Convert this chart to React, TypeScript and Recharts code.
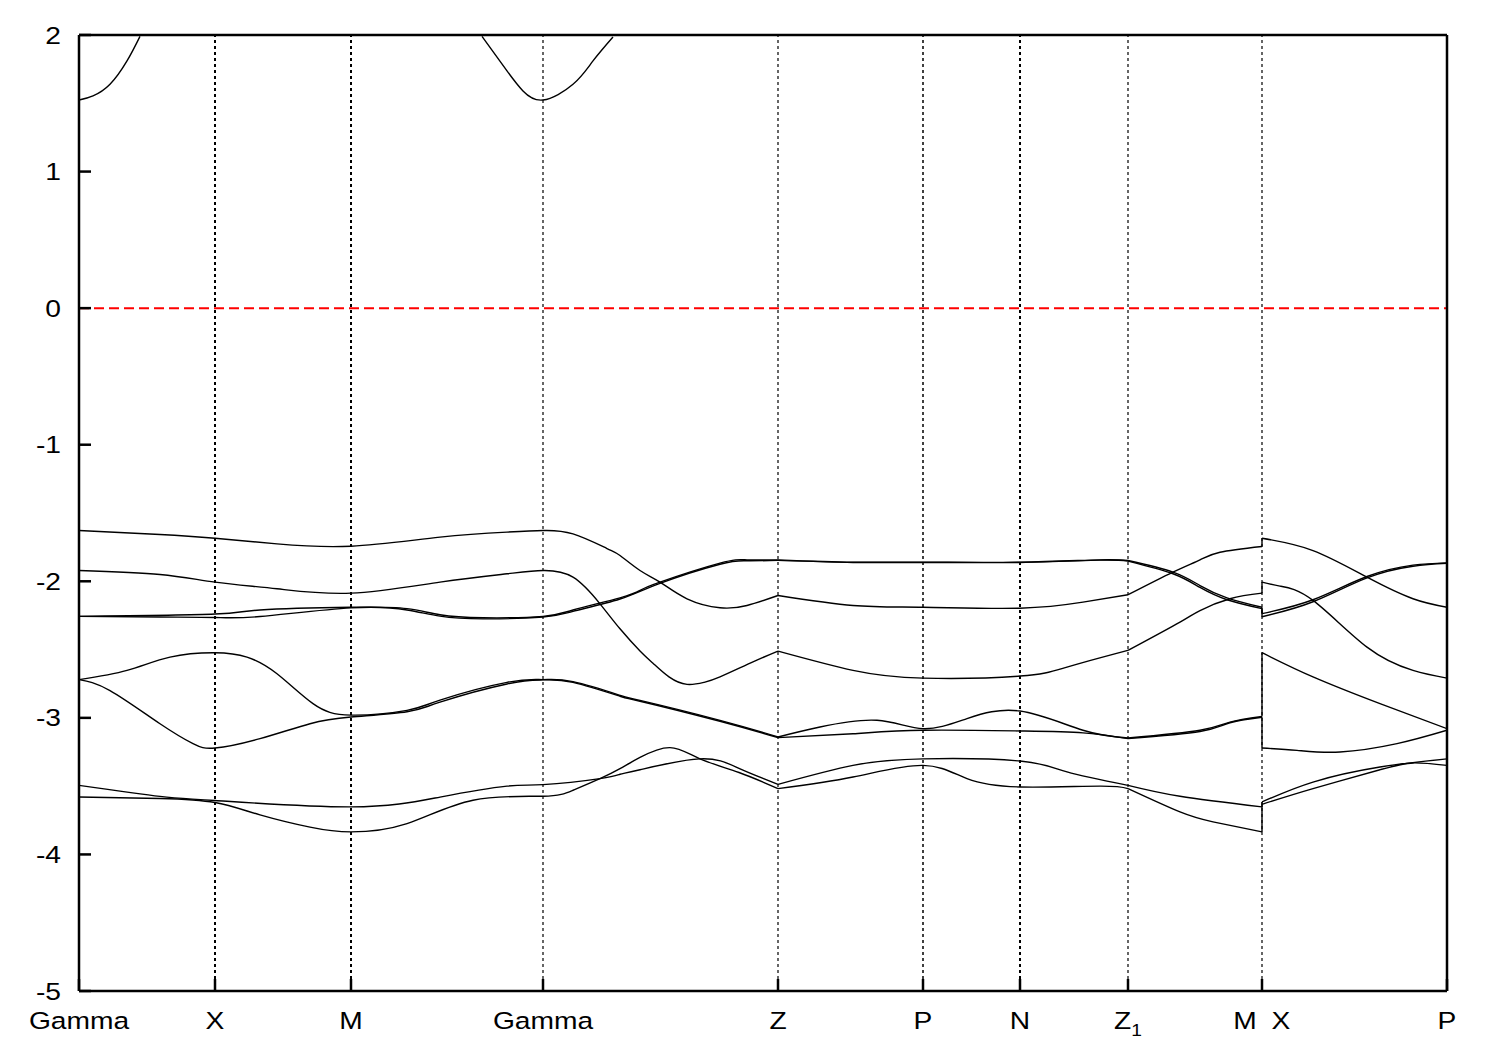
import { LineChart, Line, XAxis, YAxis, ReferenceLine } from "recharts";

// band structure: k = path length (plot px from left edge), E in eV
const kPoints = [0, 136, 272, 464, 699, 844, 941, 1049, 1183, 1368];
const kLabels = ["Gamma", "X", "M", "Gamma", "Z", "P", "N", "Z1", "M X", "P"];
const energyTicks = [-5, -4, -3, -2, -1, 0, 1, 2];
const FERMI = 0;
// Z and Z1 are not mirror points: bands come in with a kink there
const kinkPoints = [699, 1049];

// conduction band minimum at Gamma
const cbGamma1: [number, number][] = [[0, 1.524], [14, 1.554], [31, 1.639], [48, 1.81], [61, 1.99]];
const cbGamma2: [number, number][] = [[403, 1.99], [428, 1.737], [444, 1.59], [464, 1.524], [494, 1.639], [514, 1.81], [534, 1.985]];

// valence bands, Gamma -> M (left) and X -> P (right)
const bandALeft: [number, number][] = [
  [0, -1.628], [81, -1.657], [136, -1.685], [198, -1.726], [272, -1.743], [361, -1.677], [428, -1.64],
  [464, -1.628], [494, -1.653], [528, -1.76], [541, -1.811], [561, -1.921], [581, -2.006], [608, -2.128],
  [641, -2.194], [668, -2.177], [699, -2.104], [774, -2.177], [844, -2.19], [941, -2.197], [1004, -2.153],
  [1049, -2.099], [1094, -1.933], [1121, -1.843], [1141, -1.787], [1183, -1.745],
];
const bandARight: [number, number][] = [[1183, -1.685], [1234, -1.775], [1288, -1.97], [1334, -2.128], [1368, -2.19]];

const bandBLeft: [number, number][] = [
  [0, -1.921], [81, -1.95], [136, -2.006], [198, -2.055], [272, -2.087], [361, -2.006], [428, -1.945],
  [464, -1.921], [494, -1.97], [521, -2.165], [541, -2.348], [561, -2.51], [574, -2.6], [590, -2.7],
  [608, -2.755], [625, -2.74], [641, -2.70], [674, -2.59], [699, -2.511], [774, -2.652], [844, -2.709],
  [941, -2.694], [988, -2.628], [1049, -2.506], [1101, -2.299], [1121, -2.214], [1151, -2.128], [1183, -2.087],
];
const bandBRight: [number, number][] = [[1183, -2.006], [1201, -2.035], [1234, -2.14], [1288, -2.482], [1334, -2.652], [1368, -2.709]];

const bandCLeft: [number, number][] = [
  [0, -2.257], [136, -2.24], [181, -2.21], [272, -2.19], [328, -2.2], [361, -2.245], [404, -2.267],
  [464, -2.257], [494, -2.21], [541, -2.121], [561, -2.067], [581, -2.006], [641, -1.867], [668, -1.843],
  [699, -1.843], [774, -1.86], [844, -1.86], [941, -1.86], [1021, -1.843], [1049, -1.848], [1094, -1.933],
  [1121, -2.031], [1148, -2.121], [1183, -2.19],
];
const bandCRight: [number, number][] = [[1183, -2.237], [1234, -2.135], [1288, -1.965], [1334, -1.882], [1368, -1.865]];

const bandDLeft: [number, number][] = [
  [0, -2.257], [81, -2.262], [136, -2.265], [181, -2.258], [272, -2.195], [328, -2.21], [361, -2.255],
  [404, -2.275], [464, -2.262], [494, -2.22], [541, -2.13], [581, -2.015], [641, -1.875], [668, -1.85],
  [699, -1.847], [774, -1.862], [844, -1.862], [941, -1.862], [1021, -1.845], [1049, -1.852], [1094, -1.945],
  [1121, -2.045], [1148, -2.135], [1183, -2.2],
];
const bandDRight: [number, number][] = [[1183, -2.26], [1234, -2.15], [1288, -1.975], [1334, -1.89], [1368, -1.868]];

const bandELeft: [number, number][] = [
  [0, -2.72], [48, -2.652], [91, -2.555], [136, -2.523], [168, -2.555], [198, -2.677], [234, -2.896],
  [272, -2.98], [328, -2.945], [361, -2.87], [428, -2.74], [464, -2.72], [494, -2.735], [541, -2.835],
  [561, -2.872], [641, -3.018], [699, -3.14], [741, -3.067], [798, -3.018], [844, -3.079], [888, -3.005],
  [941, -2.95], [1004, -3.091], [1049, -3.148], [1121, -3.091], [1151, -3.031], [1183, -2.99],
];
const bandERight: [number, number][] = [[1183, -2.523], [1234, -2.7], [1301, -2.896], [1368, -3.079]];

const bandFLeft: [number, number][] = [
  [0, -2.72], [31, -2.8], [81, -3.043], [114, -3.189], [136, -3.221], [181, -3.152], [231, -3.043],
  [272, -2.994], [328, -2.955], [361, -2.885], [428, -2.752], [464, -2.722], [494, -2.74], [541, -2.842],
  [561, -2.878], [641, -3.025], [699, -3.145], [774, -3.116], [844, -3.091], [941, -3.096], [1004, -3.11],
  [1049, -3.152], [1121, -3.1], [1151, -3.036], [1183, -2.996],
];
const bandFRight: [number, number][] = [[1183, -3.221], [1218, -3.238], [1261, -3.25], [1318, -3.189], [1368, -3.091]];

const bandGLeft: [number, number][] = [
  [0, -3.494], [81, -3.575], [136, -3.605], [272, -3.652], [361, -3.58], [428, -3.5], [464, -3.489],
  [521, -3.445], [541, -3.413], [561, -3.38], [621, -3.3], [660, -3.37], [699, -3.487], [774, -3.348],
  [844, -3.3], [941, -3.316], [988, -3.396], [1049, -3.494], [1101, -3.574], [1183, -3.652],
];
const bandGRight: [number, number][] = [[1183, -3.616], [1234, -3.47], [1301, -3.36], [1368, -3.3]];

const bandHLeft: [number, number][] = [
  [0, -3.579], [81, -3.59], [136, -3.62], [181, -3.71], [231, -3.8], [272, -3.835], [328, -3.774],
  [394, -3.603], [464, -3.574], [494, -3.53], [521, -3.445], [541, -3.372], [561, -3.29], [591, -3.218],
  [621, -3.3], [660, -3.4], [699, -3.518], [774, -3.433], [844, -3.348], [888, -3.445], [941, -3.506],
  [1021, -3.5], [1049, -3.518], [1101, -3.689], [1134, -3.762], [1183, -3.835],
];
const bandHRight: [number, number][] = [[1183, -3.633], [1234, -3.518], [1301, -3.38], [1334, -3.33], [1368, -3.348]];

const bandPairs: [number, number][][][] = [
  [bandALeft, bandARight], [bandBLeft, bandBRight], [bandCLeft, bandCRight], [bandDLeft, bandDRight],
  [bandELeft, bandERight], [bandFLeft, bandFRight], [bandGLeft, bandGRight], [bandHLeft, bandHRight],
];

const toRows = (pts: [number, number][]) => pts.map(([k, E]) => ({ k, E }));

// cut a band at the kink points so the spline doesn't round them off
function splitAtKinks(pts: [number, number][]) {
  const out: [number, number][][] = [];
  let cur: [number, number][] = [];
  pts.forEach((p, i) => {
    cur.push(p);
    if (i > 0 && i < pts.length - 1 && kinkPoints.includes(p[0])) {
      out.push(cur);
      cur = [p];
    }
  });
  out.push(cur);
  return out;
}

const smoothSegments = [cbGamma1, cbGamma2, ...bandPairs.flat()].flatMap(splitAtKinks).map(toRows);
// gnuplot joins M and X with a vertical step because the path is discontinuous there
const jumpSegments = bandPairs.map(([l, r]) => toRows([l[l.length - 1], r[0]]));

const FONT = "'Liberation Sans', Arial, Helvetica, sans-serif";
const AXIS = { stroke: "#000", strokeWidth: 2.5 };
// the gnuplot png font is a bit wider than Arial
const STRETCH = 1.2;
const gridWidths = [2, 2, 1.2, 1.2, 1.5, 2, 1.2, 1.2];

function Label({ x, y, children, anchor = "middle", size = 23.5 }: any) {
  return (
    <text
      transform={`translate(${x},${y}) scale(${STRETCH},1)`}
      textAnchor={anchor}
      style={{ fontFamily: FONT, fontSize: size, fill: "#000" }}
    >
      {children}
    </text>
  );
}

function KTick(props: any) {
  const { x, y, index } = props;
  const label = kLabels[index] ?? "";
  const base = y + 17;
  if (label === "Z1") {
    return (
      <Label x={x} y={base}>
        <tspan>Z</tspan>
        <tspan dy={7} fontSize={16}>1</tspan>
      </Label>
    );
  }
  if (label.includes(" ")) {
    const [a, b] = label.split(" ");
    return (
      <g>
        <Label x={x - 17} y={base}>{a}</Label>
        <Label x={x + 19} y={base}>{b}</Label>
      </g>
    );
  }
  return <Label x={x} y={base}>{label}</Label>;
}

function ETick(props: any) {
  const { x, y, payload } = props;
  return <Label x={x} y={y + 8.5} anchor="end">{payload.value}</Label>;
}

export default function App() {
  return (
    <div style={{ position: "absolute", left: 0, top: 0, width: 1500, height: 1050, background: "#fff" }}>
      <LineChart width={1500} height={1050} margin={{ top: 30, right: 48, bottom: 19, left: 39 }}>
        <XAxis
          dataKey="k"
          type="number"
          domain={[0, 1368]}
          ticks={kPoints}
          interval={0}
          allowDataOverflow
          height={40}
          tickSize={-12}
          tickMargin={33}
          axisLine={AXIS}
          tickLine={AXIS}
          tick={<KTick />}
        />
        <XAxis
          xAxisId="top"
          orientation="top"
          type="number"
          domain={[0, 1368]}
          ticks={kPoints}
          interval={0}
          height={5}
          tickSize={-12}
          axisLine={AXIS}
          tickLine={AXIS}
          tick={false}
        />
        <YAxis
          type="number"
          domain={[-5, 2]}
          ticks={energyTicks}
          interval={0}
          allowDataOverflow
          width={40}
          tickSize={-12}
          tickMargin={30}
          axisLine={AXIS}
          tickLine={AXIS}
          tick={<ETick />}
        />
        <YAxis
          yAxisId="right"
          orientation="right"
          type="number"
          domain={[-5, 2]}
          ticks={energyTicks}
          interval={0}
          width={5}
          tickSize={-12}
          axisLine={AXIS}
          tickLine={AXIS}
          tick={false}
        />
        {kPoints.slice(1, -1).map((k, i) => (
          <ReferenceLine key={`k${i}`} x={k} stroke="#000" strokeWidth={gridWidths[i]} strokeDasharray="3 3" />
        ))}
        <ReferenceLine y={FERMI} stroke="#ff0000" strokeWidth={2} strokeDasharray="10 5" />
        {smoothSegments.map((d, i) => (
          <Line
            key={`s${i}`}
            data={d}
            dataKey="E"
            type="natural"
            stroke="#000"
            strokeWidth={1.4}
            dot={false}
            activeDot={false}
            isAnimationActive={false}
          />
        ))}
        {jumpSegments.map((d, i) => (
          <Line
            key={`j${i}`}
            data={d}
            dataKey="E"
            type="linear"
            stroke="#000"
            strokeWidth={1.4}
            dot={false}
            activeDot={false}
            isAnimationActive={false}
          />
        ))}
      </LineChart>
    </div>
  );
}
